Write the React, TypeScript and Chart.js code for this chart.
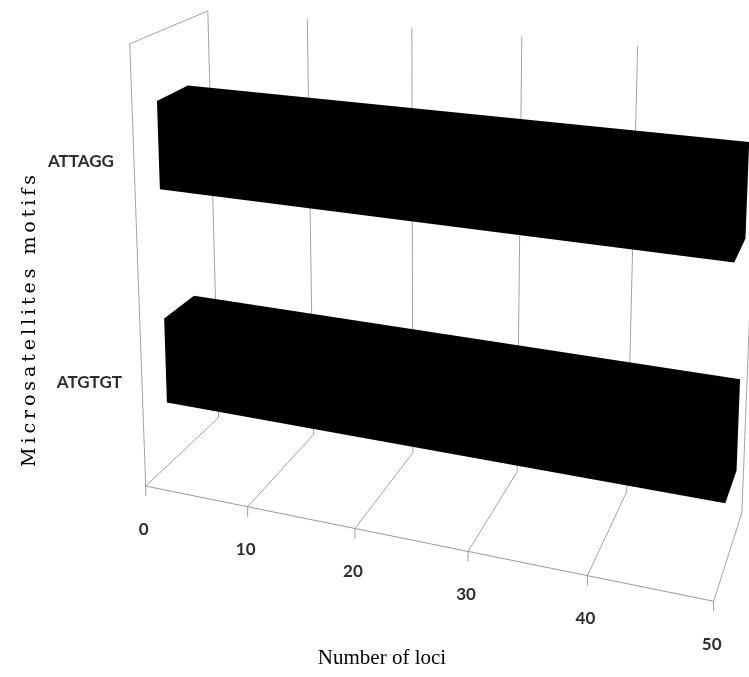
import { useEffect, useRef } from "react";
import { Chart, registerables } from "chart.js";

Chart.register(...registerables);

// ---- data ----
const motifs = ["ATTAGG", "ATGTGT"];
const lociCounts = [50, 50];
const lociTickValues = [0, 10, 20, 30, 40, 50];
const xAxisTitle = "Number of loci";
const yAxisTitle = "Microsatellites motifs";

// ---- 3-D frame calibration ----
// World space: X runs along the value axis (0..1), Y along the category axis
// (0 = floor, 1 = top of walls), Z is depth (0 = front, 1 = back wall).
// Each entry: [X, Y, Z, canvasX, canvasY]; a perspective camera is fitted to them.
const FRAME_ANCHORS: number[][] = [
  [0, 0, 0, 147, 488],
  [0.2, 0, 0, 248, 508],
  [0.4, 0, 0, 355, 530],
  [0.6, 0, 0, 468, 553],
  [0.8, 0, 0, 587, 575],
  [1, 0, 0, 713, 597],
  [0, 0, 1, 218, 414],
  [0.2, 0, 1, 313, 434],
  [0.4, 0, 1, 412, 452],
  [0.6, 0, 1, 517, 471],
  [0.8, 0, 1, 628, 492],
  [1, 0, 1, 742, 517],
  [0, 1, 1, 207, 13],
  [0.2, 1, 1, 308, 20],
  [0.4, 1, 1, 413, 28],
  [0.6, 1, 1, 523, 36],
  [0.8, 1, 1, 636, 45],
  [0, 1, 0, 129, 42],
];

const BAR_FRONT_Z = 0.3;
const BAR_BACK_Z = 0.7;
const GRID_COLOR = "#a3a3a3";
const AXIS_COLOR = "#9a9a9a";
const LABEL_COLOR = "#2e2e2e";
const LABEL_FONT = "bold 17px Lato, 'Open Sans', sans-serif";

// Least-squares DLT fit of a 3x4 projection matrix (last entry fixed to 1).
function fitCamera(points: number[][]): number[] {
  const n = 11;
  const m: number[][] = Array.from({ length: n }, () => new Array(n + 1).fill(0));
  const addRow = (row: number[], rhs: number) => {
    for (let i = 0; i < n; i++) {
      for (let j = 0; j < n; j++) m[i][j] += row[i] * row[j];
      m[i][n] += row[i] * rhs;
    }
  };
  for (const [X, Y, Z, u, v] of points) {
    addRow([X, Y, Z, 1, 0, 0, 0, 0, -u * X, -u * Y, -u * Z], u);
    addRow([0, 0, 0, 0, X, Y, Z, 1, -v * X, -v * Y, -v * Z], v);
  }
  for (let c = 0; c < n; c++) {
    let piv = c;
    for (let r = c + 1; r < n; r++) if (Math.abs(m[r][c]) > Math.abs(m[piv][c])) piv = r;
    [m[c], m[piv]] = [m[piv], m[c]];
    for (let r = 0; r < n; r++) {
      if (r === c) continue;
      const f = m[r][c] / m[c][c];
      for (let k = c; k <= n; k++) m[r][k] -= f * m[c][k];
    }
  }
  return m.map((row, i) => row[n] / row[i]);
}

function projector(p: number[]) {
  return (X: number, Y: number, Z: number): [number, number] => {
    const w = p[8] * X + p[9] * Y + p[10] * Z + 1;
    return [
      (p[0] * X + p[1] * Y + p[2] * Z + p[3]) / w,
      (p[4] * X + p[5] * Y + p[6] * Z + p[7]) / w,
    ];
  };
}

function convexHull(pts: [number, number][]): [number, number][] {
  const s = [...pts].sort((a, b) => a[0] - b[0] || a[1] - b[1]);
  const cross = (o: number[], a: number[], b: number[]) =>
    (a[0] - o[0]) * (b[1] - o[1]) - (a[1] - o[1]) * (b[0] - o[0]);
  const lower: [number, number][] = [];
  for (const p of s) {
    while (lower.length >= 2 && cross(lower[lower.length - 2], lower[lower.length - 1], p) <= 0) lower.pop();
    lower.push(p);
  }
  const upper: [number, number][] = [];
  for (let i = s.length - 1; i >= 0; i--) {
    const p = s[i];
    while (upper.length >= 2 && cross(upper[upper.length - 2], upper[upper.length - 1], p) <= 0) upper.pop();
    upper.push(p);
  }
  upper.pop();
  lower.pop();
  return lower.concat(upper);
}

const perspectivePlugin = {
  id: "perspectiveBars",
  beforeDatasetsDraw: () => false,
  afterDraw(chart: any) {
    const { ctx, chartArea: a } = chart;
    const xs = chart.scales.x;
    const ys = chart.scales.y;
    const P = projector(fitCamera(FRAME_ANCHORS));
    const fx = (px: number) => (px - a.left) / (a.right - a.left);
    const fy = (py: number) => (a.bottom - py) / (a.bottom - a.top);

    const line = (p: [number, number], q: [number, number], color: string) => {
      ctx.beginPath();
      ctx.moveTo(p[0], p[1]);
      ctx.lineTo(q[0], q[1]);
      ctx.strokeStyle = color;
      ctx.lineWidth = 1;
      ctx.stroke();
    };

    ctx.save();
    const tickXs = xs.ticks.map((t: any) => ({ X: fx(xs.getPixelForValue(t.value)), label: t.label }));

    // back wall verticals and floor depth lines
    for (const { X } of tickXs) {
      line(P(X, 0, 1), P(X, 1, 1), GRID_COLOR);
      line(P(X, 0, 0), P(X, 0, 1), GRID_COLOR);
    }
    // left wall edges
    line(P(0, 0, 0), P(0, 1, 0), GRID_COLOR);
    line(P(0, 1, 0), P(0, 1, 1), GRID_COLOR);
    // floor front edge (value axis)
    line(P(0, 0, 0), P(1, 0, 0), AXIS_COLOR);

    // ticks and their labels
    ctx.font = LABEL_FONT;
    ctx.fillStyle = LABEL_COLOR;
    ctx.textAlign = "center";
    ctx.textBaseline = "middle";
    for (const { X, label } of tickXs) {
      const [tx, ty] = P(X, 0, 0);
      line([tx, ty], [tx, ty + 10], AXIS_COLOR);
      ctx.fillText(String(label), tx - 2, ty + 43);
    }

    // bars as solid boxes
    const meta = chart.getDatasetMeta(0);
    const ds = chart.data.datasets[0];
    meta.data.forEach((el: any, i: number) => {
      const { x, y, base, height } = el.getProps(["x", "y", "base", "height"], true);
      const X0 = fx(base);
      const X1 = fx(x);
      const Y0 = fy(y + height / 2);
      const Y1 = fy(y - height / 2);
      const corners: [number, number][] = [];
      for (const X of [X0, X1])
        for (const Y of [Y0, Y1])
          for (const Z of [BAR_FRONT_Z, BAR_BACK_Z]) corners.push(P(X, Y, Z));
      const hull = convexHull(corners);
      ctx.beginPath();
      hull.forEach((p, k) => (k ? ctx.lineTo(p[0], p[1]) : ctx.moveTo(p[0], p[1])));
      ctx.closePath();
      ctx.fillStyle = Array.isArray(ds.backgroundColor) ? ds.backgroundColor[i] : ds.backgroundColor;
      ctx.fill();
    });

    // category labels on the left wall
    ctx.font = LABEL_FONT;
    ctx.fillStyle = LABEL_COLOR;
    ctx.textAlign = "right";
    ys.ticks.forEach((_t: any, i: number) => {
      const Y = fy(ys.getPixelForValue(i));
      const [lx, ly] = P(0, Y, 0);
      ctx.fillText(String(chart.data.labels[i]), lx - 20, ly + 3);
    });

    // axis titles
    ctx.fillStyle = "#000";
    ctx.font = "21px 'Liberation Serif', 'Times New Roman', serif";
    ctx.textAlign = "center";
    ctx.fillText(xAxisTitle, 382, 658);

    ctx.save();
    ctx.translate(30, 321);
    ctx.rotate(-Math.PI / 2);
    ctx.font = "19px 'DejaVu Serif', serif";
    const plain = ctx.measureText(yAxisTitle).width;
    const spacing = Math.max(0, (292 - plain) / (yAxisTitle.length - 1));
    (ctx as any).letterSpacing = `${spacing}px`;
    ctx.textAlign = "left";
    ctx.fillText(yAxisTitle, -146, 0);
    ctx.restore();

    ctx.restore();
  },
};

export default function App() {
  const canvasRef = useRef<HTMLCanvasElement>(null);

  useEffect(() => {
    const chart = new Chart(canvasRef.current!, {
      type: "bar",
      data: {
        labels: motifs,
        datasets: [
          {
            label: xAxisTitle,
            data: lociCounts,
            backgroundColor: "#000000",
            barPercentage: 0.4,
            categoryPercentage: 1.0,
          },
        ],
      },
      options: {
        indexAxis: "y",
        responsive: false,
        animation: false,
        devicePixelRatio: 1,
        layout: { padding: 40 },
        scales: {
          x: {
            display: false,
            min: lociTickValues[0],
            max: lociTickValues[lociTickValues.length - 1],
            ticks: { stepSize: lociTickValues[1] - lociTickValues[0] },
          },
          y: { display: false },
        },
        plugins: {
          legend: { display: false },
          tooltip: { enabled: false },
        },
      },
      plugins: [perspectivePlugin],
    });
    return () => chart.destroy();
  }, []);

  return (
    <div style={{ position: "fixed", left: 0, top: 0, width: 749, height: 677, background: "#ffffff" }}>
      <canvas ref={canvasRef} width={749} height={677} style={{ display: "block", width: 749, height: 677 }} />
    </div>
  );
}
